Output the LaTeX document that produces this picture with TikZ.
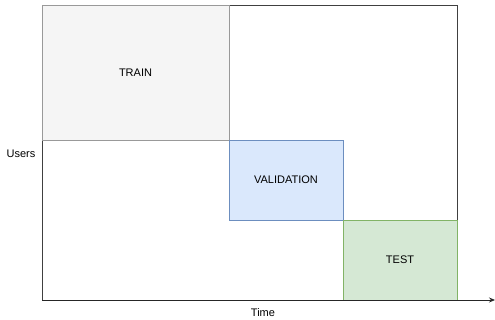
\documentclass[tikz,border=0pt]{standalone}
\usepackage{fontspec}
\setmainfont{Liberation Sans}
\usetikzlibrary{arrows.meta, positioning}
\definecolor{trainfill}{HTML}{F5F5F5}
\definecolor{traindraw}{HTML}{999999}
\definecolor{validfill}{HTML}{DAE8FC}
\definecolor{validdraw}{HTML}{6C8EBF}
\definecolor{testfill}{HTML}{D5E8D4}
\definecolor{testdraw}{HTML}{82B366}
\tikzset{
    split/.style={rectangle, inner sep=0pt, outer sep=0pt, line width=0.8pt, font=\fontsize{11}{13}\selectfont},
    lbl/.style={font=\fontsize{11}{13}\selectfont}
}

\begin{document}
\begin{tikzpicture}[x=1pt, y=-1pt]
\useasboundingbox (0,0) rectangle (495,320);
% Outer frame
\node[draw=black!75, line width=0.8pt, minimum width=415pt, minimum height=295pt, inner sep=0pt, outer sep=0pt, anchor=north west] (frame) at (42,5) {};
% Splits along time
\node[split, draw=traindraw, fill=trainfill, minimum width=187pt, minimum height=135pt, anchor=north west] (train) at (frame.north west) {TRAIN};
\node[split, draw=validdraw, fill=validfill, minimum width=114pt, minimum height=80pt, anchor=north west] (valid) at (train.south east) {VALIDATION};
\node[split, draw=testdraw, fill=testfill, minimum width=114pt, minimum height=80pt, anchor=north west] (test) at (valid.south east) {TEST};
% Axes
\coordinate (tend) at (495,300);
\draw[-{Stealth[length=6pt, width=5pt]}, line width=0.8pt, black!85] (frame.south west) -- (tend);
\node[lbl] (users) at (21,154) {Users};
\node[lbl] (time) at (263,313) {Time};
\end{tikzpicture}
\end{document}
